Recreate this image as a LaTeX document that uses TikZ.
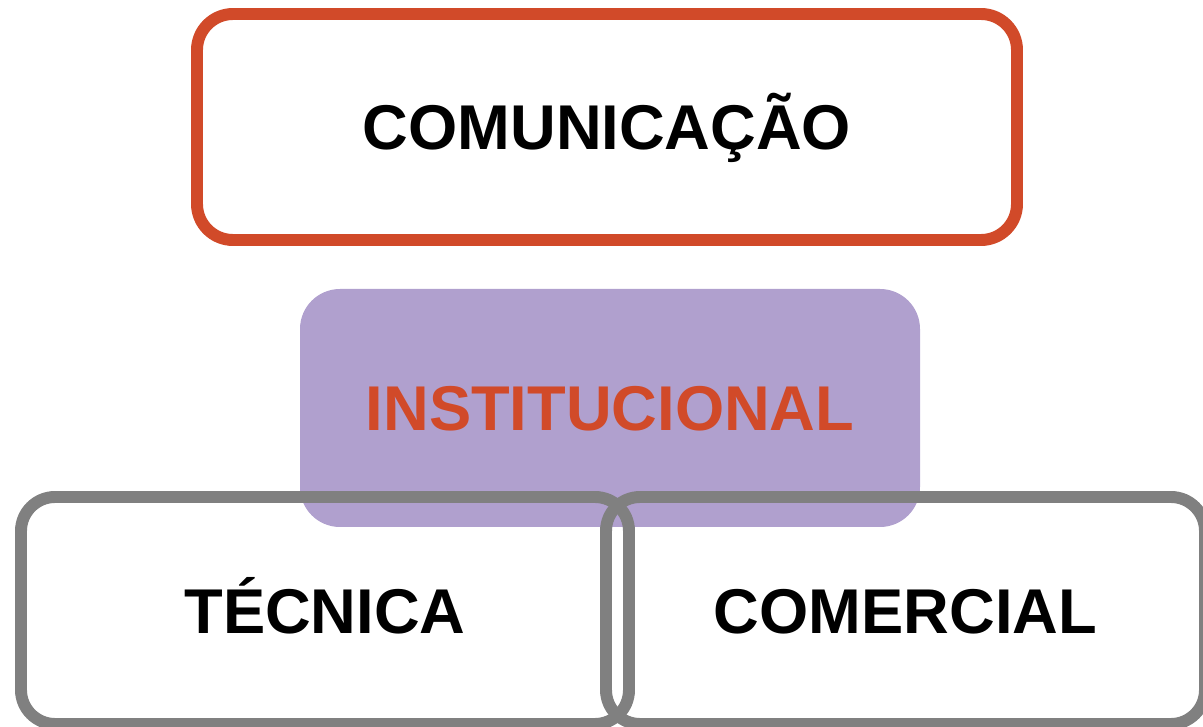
\documentclass[tikz,border=0pt]{standalone}
\usepackage{fontspec}
\setmainfont{Liberation Sans}
\definecolor{rust}{RGB}{209,74,41}
\definecolor{lilac}{RGB}{176,160,206}
\definecolor{slate}{RGB}{128,128,128}

\begin{document}
\begin{tikzpicture}[font=\fontsize{45}{54}\selectfont\bfseries]
  %----- styles
  \tikzset{
    head/.style ={draw=rust,line width=8.5pt,rounded corners=0.9cm,minimum width=20.5cm,minimum height=5.65cm,text height=32.2pt,text depth=0pt,inner sep=0pt},
    core/.style ={fill=lilac,rounded corners=1cm,minimum width=15.5cm,minimum height=5.95cm,text=rust,text height=32.2pt,text depth=0pt,inner sep=0pt},
    leaf/.style ={draw=slate,line width=8.5pt,rounded corners=0.85cm,minimum height=5.675cm,text height=32.2pt,text depth=0pt,inner sep=0pt}
  }
  \useasboundingbox (0,0) rectangle (30.075,18.15);

  %----- nodes
  % top
  \node[head] (com) at (15.175,14.975) {COMUNICAÇÃO};
  % middle
  \node[core] (inst) at (15.25,7.95) {INSTITUCIONAL};
  % bottom row
  \node[leaf,minimum width=15.2cm]   (tec) at (8.125,2.8875)  {TÉCNICA};
  \node[leaf,minimum width=14.975cm] (cmr) at (22.6375,2.8875) {COMERCIAL};
\end{tikzpicture}
\end{document}
